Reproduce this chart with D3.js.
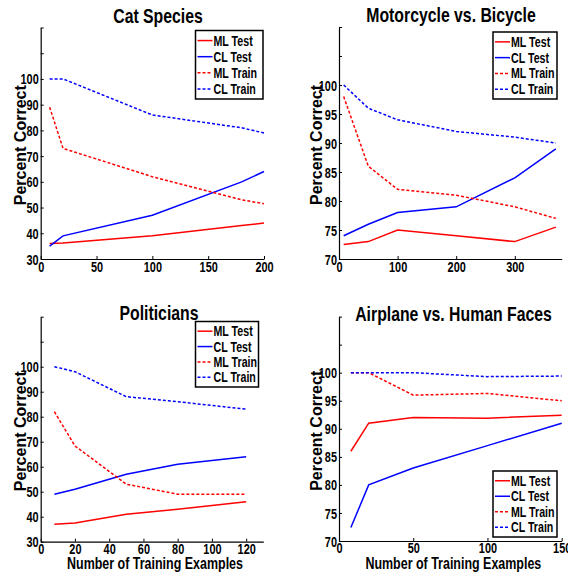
<!DOCTYPE html>
<html>
<head>
<meta charset="utf-8">
<script src="https://cdn.jsdelivr.net/npm/d3@7"></script>
<style>
  html, body { margin: 0; padding: 0; background: #fff; }
  svg { display: block; }
  text { font-family: "Liberation Sans", Arial, Helvetica, sans-serif; font-weight: bold; fill: #000; }
</style>
</head>
<body>
<svg id="chart" width="568" height="574"></svg>
<script>
// Series names shared by all four panels
const seriesNames = ["ML Test", "CL Test", "ML Train", "CL Train"];

// Cat Species
const catX = [8, 20, 100, 180, 200];
const catMLTest = [36, 36.2, 39, 43, 44];
const catCLTest = [35, 39, 47, 60, 64];
const catMLTrain = [89, 73, 62, 53, 51.5];
const catCLTrain = [100, 100, 86, 81, 79];

// Motorcycle vs. Bicycle
const motoX = [8, 50, 100, 200, 300, 370];
const motoMLTest = [72.5, 73, 75, 74, 73, 75.5];
const motoCLTest = [74, 76, 78, 79, 84, 89];
const motoMLTrain = [98, 86, 82, 81, 79, 77];
const motoCLTrain = [100, 96, 94, 92, 91, 90];

// Politicians
const polX = [8, 20, 50, 80, 120];
const polMLTest = [37, 37.5, 41, 43, 46];
const polCLTest = [49, 51, 57, 61, 64];
const polMLTrain = [82, 68.3, 53, 49, 49];
const polCLTrain = [100, 98, 88, 86, 83];

// Airplane vs. Human Faces
const airX = [8, 20, 50, 100, 150];
const airMLTest = [86, 91, 92, 91.9, 92.4];
const airCLTest = [72.4, 80, 83, 87, 91];
const airMLTrain = [100, 100, 96, 96.3, 95];
const airCLTrain = [100, 100, 100, 99.3, 99.4];

// Axis tick values
const catXTicks = [0, 50, 100, 150, 200];
const motoXTicks = [0, 100, 200, 300];
const polXTicks = [0, 20, 40, 60, 80, 100, 120];
const airXTicks = [0, 50, 100, 150];
const yTicksWide = [30, 40, 50, 60, 70, 80, 90, 100, 110, 120];
const yTicksNarrow = [70, 75, 80, 85, 90, 95, 100, 105, 110];

const seriesColor = ["#ff0000", "#0000ff", "#ff0000", "#0000ff"];
const seriesDash = [null, null, "3,2", "3,2"];

// horizontal condensing applied to upright text
const SX = 0.78;
const SX_TITLE = 0.79;

const panels = [
  { title: "Cat Species", x: catX, ys: [catMLTest, catCLTest, catMLTrain, catCLTrain],
    xDomain: [0, 200], yDomain: [30, 120], xTicks: catXTicks, yTicks: yTicksWide,
    left: 40.7, right: 264, top: 27.5, bottom: 259, titleX: 158, titleY: 22.5,
    ylabX: 25.5, xlabel: false, xpad: 3, legend: { x: 195.5, y: 30.5, w: 67.5, h: 68.5 } },
  { title: "Motorcycle vs. Bicycle", x: motoX, ys: [motoMLTest, motoCLTest, motoMLTrain, motoCLTrain],
    xDomain: [0, 380], yDomain: [70, 110], xTicks: motoXTicks, yTicks: yTicksNarrow,
    left: 339, right: 561.7, top: 27, bottom: 259, titleX: 451, titleY: 22,
    ylabX: 321.5, xlabel: false, xpad: 3, legend: { x: 493, y: 32, w: 64, h: 67 } },
  { title: "Politicians", x: polX, ys: [polMLTest, polCLTest, polMLTrain, polCLTrain],
    xDomain: [0, 130], yDomain: [30, 120], xTicks: polXTicks, yTicks: yTicksWide,
    left: 40.7, right: 263.3, top: 316.7, bottom: 541.7, titleX: 159, titleY: 319.5,
    ylabX: 25.5, xlabel: true, xpad: 2, legend: { x: 195.5, y: 321.5, w: 63, h: 65.5 } },
  { title: "Airplane vs. Human Faces", x: airX, ys: [airMLTest, airCLTest, airMLTrain, airCLTrain],
    xDomain: [0, 150], yDomain: [70, 110], xTicks: airXTicks, yTicks: yTicksNarrow,
    left: 339, right: 561.7, top: 316.6, bottom: 541, titleX: 453.5, titleY: 321,
    ylabX: 321.5, xlabel: true, xpad: 2, legend: { x: 493, y: 471, w: 64, h: 66 } }
];

// place an upright, horizontally condensed label at (x, y)
function label(parent, x, y, str, size, sx, anchor) {
  return parent.append("text")
    .attr("transform", `translate(${x},${y}) scale(${sx},1)`)
    .attr("text-anchor", anchor || "middle")
    .attr("font-size", size)
    .text(str);
}

const svg = d3.select("#chart");
svg.append("rect").attr("width", 568).attr("height", 574).attr("fill", "#fff");

panels.forEach(p => {
  const x = d3.scaleLinear().domain(p.xDomain).range([p.left, p.right]);
  const y = d3.scaleLinear().domain(p.yDomain).range([p.bottom, p.top]);
  const g = svg.append("g");

  // x axis: inward ticks, no outer ticks
  const xa = g.append("g")
    .attr("transform", `translate(0,${p.bottom})`)
    .call(d3.axisBottom(x).tickValues(p.xTicks).tickSizeInner(-3).tickSizeOuter(0).tickPadding(p.xpad)
      .tickFormat(d3.format("d")));
  // y axis: labels only up to 100
  const ya = g.append("g")
    .attr("transform", `translate(${p.left},0)`)
    .call(d3.axisLeft(y).tickValues(p.yTicks).tickSizeInner(-3).tickSizeOuter(0).tickPadding(2)
      .tickFormat(d => d <= 100 ? d3.format("d")(d) : ""));
  [xa, ya].forEach(a => {
    a.attr("font-family", null).attr("font-size", null);
    a.select(".domain").attr("stroke", "#000").attr("stroke-width", 1.2);
    a.selectAll(".tick line").attr("stroke", "#000").attr("stroke-width", 1);
    a.selectAll(".tick text").attr("font-size", 14).attr("fill", "#000")
      .each(function () {
        const t = d3.select(this);
        const tx = +t.attr("x") || 0;
        t.attr("x", tx / SX).attr("transform", `scale(${SX},1)`);
      });
  });
  ya.selectAll(".tick text").attr("dy", "0.36em");

  // series lines
  const line = d3.line().x((d, i) => x(p.x[i])).y(d => y(d));
  p.ys.forEach((vals, k) => {
    g.append("path")
      .datum(vals)
      .attr("d", line)
      .attr("fill", "none")
      .attr("stroke", seriesColor[k])
      .attr("stroke-width", 1.5)
      .attr("stroke-dasharray", seriesDash[k]);
  });

  // title
  label(g, p.titleX, p.titleY, p.title, 20, SX_TITLE);

  // y axis label
  g.append("text")
    .attr("transform", `translate(${p.ylabX},${(p.top + p.bottom) / 2 + 2}) rotate(-90)`)
    .attr("text-anchor", "middle").attr("font-size", 16)
    .text("Percent Correct");

  // x axis label
  if (p.xlabel) {
    label(g, (p.left + p.right) / 2 + 3, 569, "Number of Training Examples", 16, SX);
  }

  // legend
  const L = p.legend;
  const lg = g.append("g").attr("transform", `translate(${L.x},${L.y})`);
  lg.append("rect").attr("width", L.w).attr("height", L.h)
    .attr("fill", "#fff").attr("stroke", "#000").attr("stroke-width", 1.5);
  const rowH = (L.h - 4) / 4;
  seriesNames.forEach((name, k) => {
    const cy = 2 + rowH * (k + 0.5);
    lg.append("line").attr("x1", 2).attr("x2", 17).attr("y1", cy).attr("y2", cy)
      .attr("stroke", seriesColor[k]).attr("stroke-width", 1.5)
      .attr("stroke-dasharray", seriesDash[k]);
    label(lg, 18, cy + 5, name, 14, 0.76, "start");
  });
});
</script>
</body>
</html>
